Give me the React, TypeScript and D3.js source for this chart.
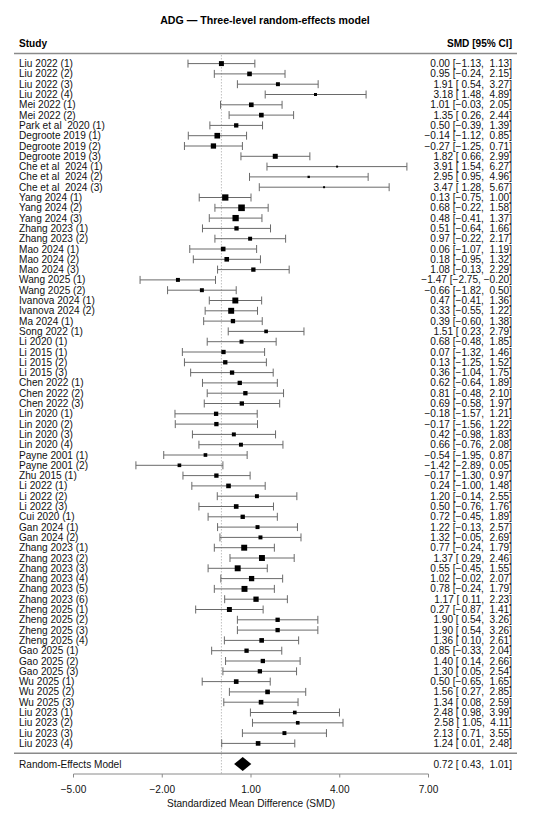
import React from "react";
import * as d3 from "d3";

const studies = [
  "Liu 2022 (1)", "Liu 2022 (2)", "Liu 2022 (3)", "Liu 2022 (4)",
  "Mei 2022 (1)", "Mei 2022 (2)", "Park et al  2020 (1)",
  "Degroote 2019 (1)", "Degroote 2019 (2)", "Degroote 2019 (3)",
  "Che et al  2024 (1)", "Che et al  2024 (2)", "Che et al  2024 (3)",
  "Yang 2024 (1)", "Yang 2024 (2)", "Yang 2024 (3)",
  "Zhang 2023 (1)", "Zhang 2023 (2)",
  "Mao 2024 (1)", "Mao 2024 (2)", "Mao 2024 (3)",
  "Wang 2025 (1)", "Wang 2025 (2)",
  "Ivanova 2024 (1)", "Ivanova 2024 (2)", "Ma 2024 (1)", "Song 2022 (1)",
  "Li 2020 (1)", "Li 2015 (1)", "Li 2015 (2)", "Li 2015 (3)",
  "Chen 2022 (1)", "Chen 2022 (2)", "Chen 2022 (3)",
  "Lin 2020 (1)", "Lin 2020 (2)", "Lin 2020 (3)", "Lin 2020 (4)",
  "Payne 2001 (1)", "Payne 2001 (2)", "Zhu 2015 (1)",
  "Li 2022 (1)", "Li 2022 (2)", "Li 2022 (3)", "Cui 2020 (1)",
  "Gan 2024 (1)", "Gan 2024 (2)",
  "Zhang 2023 (1)", "Zhang 2023 (2)", "Zhang 2023 (3)", "Zhang 2023 (4)",
  "Zhang 2023 (5)", "Zhang 2023 (6)",
  "Zheng 2025 (1)", "Zheng 2025 (2)", "Zheng 2025 (3)", "Zheng 2025 (4)",
  "Gao 2025 (1)", "Gao 2025 (2)", "Gao 2025 (3)",
  "Wu 2025 (1)", "Wu 2025 (2)", "Wu 2025 (3)",
  "Liu 2023 (1)", "Liu 2023 (2)", "Liu 2023 (3)", "Liu 2023 (4)",
];

const smd = [
  0.0, 0.95, 1.91, 3.18, 1.01, 1.35, 0.5, -0.14, -0.27, 1.82, 3.91, 2.95, 3.47,
  0.13, 0.68, 0.48, 0.51, 0.97, 0.06, 0.18, 1.08, -1.47, -0.66, 0.47, 0.33,
  0.39, 1.51, 0.68, 0.07, 0.13, 0.36, 0.62, 0.81, 0.69, -0.18, -0.17, 0.42,
  0.66, -0.54, -1.42, -0.17, 0.24, 1.2, 0.5, 0.72, 1.22, 1.32, 0.77, 1.37,
  0.55, 1.02, 0.78, 1.17, 0.27, 1.9, 1.9, 1.36, 0.85, 1.4, 1.3, 0.5, 1.56,
  1.34, 2.48, 2.58, 2.13, 1.24,
];

const lower = [
  -1.13, -0.24, 0.54, 1.48, -0.03, 0.26, -0.39, -1.12, -1.25, 0.66, 1.54, 0.95,
  1.28, -0.75, -0.22, -0.41, -0.64, -0.22, -1.07, -0.95, -0.13, -2.75, -1.82,
  -0.41, -0.55, -0.6, 0.23, -0.48, -1.32, -1.25, -1.04, -0.64, -0.48, -0.58,
  -1.57, -1.56, -0.98, -0.76, -1.95, -2.89, -1.3, -1.0, -0.14, -0.76, -0.45,
  -0.13, -0.05, -0.24, 0.29, -0.45, -0.02, -0.24, 0.11, -0.87, 0.54, 0.54, 0.1,
  -0.33, 0.14, 0.05, -0.65, 0.27, 0.08, 0.98, 1.05, 0.71, 0.01,
];

const upper = [
  1.13, 2.15, 3.27, 4.89, 2.05, 2.44, 1.39, 0.85, 0.71, 2.99, 6.27, 4.96, 5.67,
  1.0, 1.58, 1.37, 1.66, 2.17, 1.19, 1.32, 2.29, -0.2, 0.5, 1.36, 1.22, 1.38,
  2.79, 1.85, 1.46, 1.52, 1.75, 1.89, 2.1, 1.97, 1.21, 1.22, 1.83, 2.08, 0.87,
  0.05, 0.97, 1.48, 2.55, 1.76, 1.89, 2.57, 2.69, 1.79, 2.46, 1.55, 2.07, 1.79,
  2.23, 1.41, 3.26, 3.26, 2.61, 2.04, 2.66, 2.54, 1.65, 2.85, 2.59, 3.99, 4.11,
  3.55, 2.48,
];

const weights = [
  1.13, 0.98, 0.72, 0.41, 0.98, 0.98, 0.85, 1.45, 1.28, 1.13, 0.18, 0.25, 0.18,
  1.81, 2.0, 1.81, 0.85, 0.72, 0.98, 0.98, 0.85, 0.72, 0.72, 1.62, 1.62, 0.85,
  0.61, 0.72, 0.85, 0.85, 0.85, 0.85, 0.85, 0.85, 0.85, 0.85, 0.72, 0.72, 0.61,
  0.61, 0.85, 0.98, 0.72, 0.98, 0.85, 0.72, 0.72, 1.62, 1.62, 1.62, 1.28, 1.62,
  1.28, 1.13, 0.85, 0.85, 0.98, 0.85, 0.85, 0.85, 0.98, 0.98, 0.98, 0.61, 0.61,
  0.72, 0.98,
];

const pooled = { label: "Random-Effects Model", est: 0.72, lo: 0.43, hi: 1.01 };
const xTicks = [-5, -2, 1, 4, 7];

const W = 550;
const H = 823;
const FONT = "'Liberation Sans', Arial, Helvetica, sans-serif";
const FS = 10.1;
const RIGHT = 512;

const f2 = d3.format(".2f");
const pad = (v: number) => (v >= 0 ? " " : "") + f2(v);
const ciText = (e: number, l: number, h: number) =>
  `${f2(e)} [${pad(l)}, ${pad(h)}]`;

export default function App() {
  const x = d3.scaleLinear().domain([-5, 7]).range([73.5, 428.5]);
  const y = d3
    .scalePoint<number>()
    .domain(d3.range(studies.length))
    .range([63.6, 743.4]);
  const size = d3.scaleSqrt().domain([0, 2]).range([0, 6.6]);

  const yPooled = 764;
  const yAxis = 774;
  const lineGray = "#6a6a6a";

  const diamond = d3.line()([
    [x(pooled.lo), yPooled],
    [x(pooled.est), yPooled - 7],
    [x(pooled.hi), yPooled],
    [x(pooled.est), yPooled + 7],
  ]) + "Z";

  return (
    <div style={{ position: "fixed", left: 0, top: 0 }}>
      <svg width={W} height={H} style={{ display: "block", background: "#fff" }} fontFamily={FONT}>
        <text x={265} y={19.5} textAnchor="middle" dominantBaseline="central"
          fontSize={10.6} fontWeight="bold" fill="#000">
          ADG — Three-level random-effects model
        </text>

        <text x={19} y={43.5} dominantBaseline="central" fontSize={FS} fontWeight="bold" fill="#000">
          Study
        </text>
        <text x={RIGHT} y={43.5} textAnchor="end" dominantBaseline="central" fontSize={FS}
          fontWeight="bold" fill="#000">
          SMD [95% CI]
        </text>
        <line x1={14} x2={517} y1={53.5} y2={53.5} stroke="#8a8a8a" strokeWidth={1.4} />

        {/* null effect reference */}
        <line x1={x(0)} x2={x(0)} y1={55} y2={yAxis} stroke="#b0b0b0"
          strokeWidth={0.8} strokeDasharray="1.5,1.5" />

        {studies.map((s, i) => {
          const yy = y(i) as number;
          const sz = size(weights[i]);
          return (
            <g key={i}>
              <text x={19} y={yy} dominantBaseline="central" fontSize={FS} fill="#111"
                style={{ whiteSpace: "pre" }}>
                {s}
              </text>
              <line x1={x(lower[i])} x2={x(upper[i])} y1={yy} y2={yy} stroke={lineGray} strokeWidth={1} />
              <line x1={x(lower[i])} x2={x(lower[i])} y1={yy - 4} y2={yy + 4} stroke={lineGray} strokeWidth={1} />
              <line x1={x(upper[i])} x2={x(upper[i])} y1={yy - 4} y2={yy + 4} stroke={lineGray} strokeWidth={1} />
              <rect x={x(smd[i]) - sz / 2} y={yy - sz / 2} width={sz} height={sz} fill="#000" />
              <text x={RIGHT} y={yy} textAnchor="end" dominantBaseline="central" fontSize={FS}
                fill="#111" style={{ whiteSpace: "pre" }}>
                {ciText(smd[i], lower[i], upper[i])}
              </text>
            </g>
          );
        })}

        <line x1={14} x2={517} y1={753.3} y2={753.3} stroke="#8a8a8a" strokeWidth={1.4} />

        <text x={19} y={yPooled} dominantBaseline="central" fontSize={FS} fill="#111">
          {pooled.label}
        </text>
        <path d={diamond} fill="#000" />
        <text x={RIGHT} y={yPooled} textAnchor="end" dominantBaseline="central" fontSize={FS}
          fill="#111" style={{ whiteSpace: "pre" }}>
          {ciText(pooled.est, pooled.lo, pooled.hi)}
        </text>

        {/* x axis */}
        <line x1={x(-5)} x2={x(7)} y1={yAxis} y2={yAxis} stroke="#8a8a8a" strokeWidth={1} />
        {xTicks.map((t) => (
          <g key={t}>
            <line x1={x(t)} x2={x(t)} y1={yAxis} y2={yAxis + 3.5} stroke="#8a8a8a" strokeWidth={1} />
            <text x={x(t)} y={789} textAnchor="middle" dominantBaseline="central" fontSize={FS} fill="#111">
              {f2(t)}
            </text>
          </g>
        ))}
        <text x={(x(-5) + x(7)) / 2} y={803} textAnchor="middle" dominantBaseline="central"
          fontSize={FS} fill="#111">
          Standardized Mean Difference (SMD)
        </text>
      </svg>
    </div>
  );
}
